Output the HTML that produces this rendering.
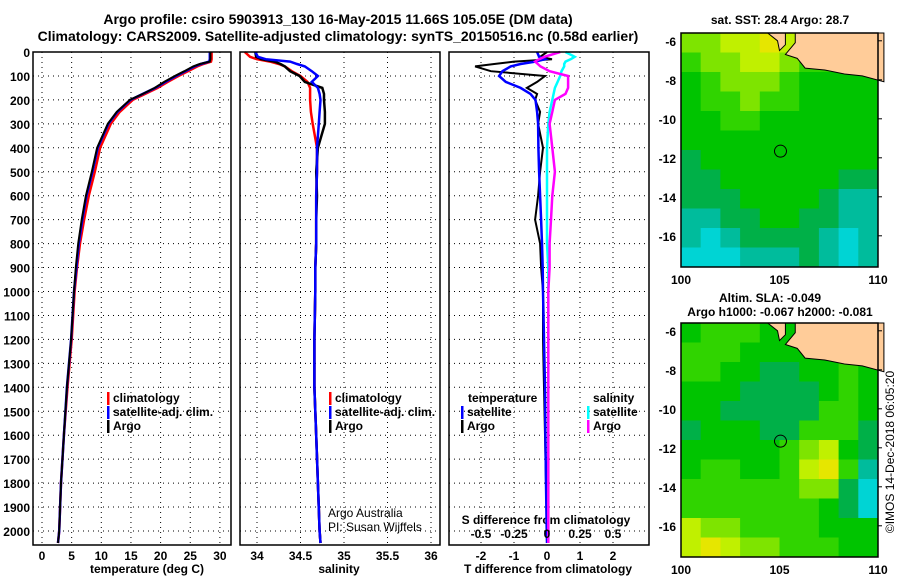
<!DOCTYPE html>
<html><head><meta charset="utf-8"><style>
body{margin:0;background:#fff}
svg{display:block;font-family:"Liberation Sans",sans-serif}
.b{font-weight:bold;font-size:12px}
.t{font-weight:bold;font-size:14px}
</style></head><body>
<svg id="s" width="900" height="580" viewBox="0 0 900 580">
<text class="t" x="338" y="24" text-anchor="middle">Argo profile: csiro 5903913_130 16-May-2015 11.66S 105.05E (DM data)</text>
<text class="t" x="338" y="41" text-anchor="middle">Climatology: CARS2009. Satellite-adjusted climatology: synTS_20150516.nc (0.58d earlier)</text>
<text class="b" x="147" y="573" text-anchor="middle">temperature (deg C)</text>
<text class="b" x="339" y="573" text-anchor="middle">salinity</text>
<text class="b" x="548" y="573" text-anchor="middle">T difference from climatology</text>
<text class="b" x="546" y="524" text-anchor="middle">S difference from climatology</text>
<text x="328" y="517" font-size="12">Argo Australia</text>
<text x="328" y="531" font-size="12">PI: Susan Wijffels</text>
<text class="b" x="780" y="24" text-anchor="middle">sat. SST: 28.4 Argo: 28.7</text>
<text class="b" x="770" y="302" text-anchor="middle">Altim. SLA: -0.049</text>
<text class="b" x="780" y="316" text-anchor="middle">Argo h1000: -0.067 h2000: -0.081</text>
<text x="0" y="0" font-size="12" transform="translate(894,452) rotate(-90)" text-anchor="middle">©IMOS 14-Dec-2018 06:05:20</text>
</svg>
<script>
const depths=[0,20,30,40,50,60,80,100,125,150,175,200,250,300,400,500,600,700,800,900,1000,1200,1400,1600,1800,2000,2050];
const tempArgo=[28.4,28.4,28.4,28.3,26.6,25.5,24,22.4,20.6,19,17,14.8,12.6,11.1,9.3,8.4,7.4,6.7,6.1,5.7,5.4,4.9,4.2,3.7,3.2,2.9,2.7];
const tempClim=[28.6,28.6,28.6,28.5,27.2,26.2,24.6,23,21.2,19.5,17.4,15.3,13.1,11.6,9.8,8.9,7.9,7.1,6.4,5.9,5.5,5.0,4.3,3.7,3.2,2.9,2.7];
const tempSat=[28.3,28.3,28.3,28.2,26.8,25.7,24.2,22.6,20.8,19.1,17,14.9,12.7,11.2,9.4,8.5,7.5,6.8,6.2,5.8,5.4,4.9,4.2,3.7,3.2,2.9,2.7];
const salArgo=[33.98,33.99,34.05,34.2,34.27,34.32,34.38,34.49,34.55,34.75,34.77,34.77,34.78,34.78,34.7,34.68,34.69,34.68,34.68,34.67,34.67,34.66,34.66,34.68,34.7,34.72,34.73];
const salClim=[33.86,33.92,34.0,34.15,34.25,34.32,34.4,34.5,34.58,34.61,34.61,34.61,34.62,34.64,34.69,34.69,34.68,34.68,34.68,34.67,34.67,34.66,34.66,34.68,34.7,34.72,34.73];
const salSat=[33.98,34.01,34.1,34.38,34.46,34.55,34.63,34.7,34.63,34.7,34.72,34.73,34.72,34.71,34.69,34.69,34.68,34.68,34.68,34.67,34.67,34.66,34.66,34.68,34.7,34.72,34.73];
const dTArgo=[0,-0.21,0.15,-1.0,-1.6,-2.18,-1.7,-0.06,-0.3,-0.61,-0.3,-0.36,-0.21,-0.27,-0.12,-0.21,-0.27,-0.36,-0.21,-0.18,-0.12,-0.12,-0.09,-0.06,-0.03,0,0];
const dTSat=[-0.3,-0.24,-0.06,-0.36,-0.8,-1.1,-1.35,-1.45,-1.25,-0.8,-0.5,-0.35,-0.3,-0.27,-0.26,-0.24,-0.21,-0.18,-0.15,-0.13,-0.12,-0.09,-0.06,-0.05,-0.03,-0.01,0];
const dSSat=[0.14,0.21,0.18,0.14,0.13,0.13,0.11,0.1,0.08,0.06,0.05,0.04,0.02,0.01,0,0,0,0,0,0.01,0.01,0.01,0.01,0.01,0.01,0.01,0.01];
const dSArgo=[0.1,-0.02,-0.06,-0.09,-0.07,-0.05,0.02,0.16,0.16,0.16,0.14,0.06,0.04,0.02,0.04,0.06,0.04,0.03,0.02,0.02,0.01,0.01,0.01,0.01,0.01,0.01,0.01];
const tTicks=[0,5,10,15,20,25,30];
const sTicks=[34,34.5,35,35.5,36];
const sTickLabels=["34","34.5","35","35.5","36"];
const dSTicks=[-0.5,-0.25,0,0.25,0.5];
const dSTickLabels=["-0.5","-0.25","0","0.25","0.5"];
const dTTicks=[-2,-1,0,1,2];
const depthTicks=[0,100,200,300,400,500,600,700,800,900,1000,1100,1200,1300,1400,1500,1600,1700,1800,1900,2000];
const latTicks=[-6,-8,-10,-12,-14,-16];
const lonTicks=[100,105,110];
const sstGrid=["5566765555","4556654444","3455543333","3445443333","3344333333","3333333333","2333333333","2233333322","2223333211","1122332211","1012222101","0001112101"];
const slaGrid=["3444333333","4443333333","4433223343","3332222343","3322222443","2333224442","3333345632","3443346741","4444445520","4444444320","6554444333","6765544433"];
const NS='http://www.w3.org/2000/svg';
const svg=document.getElementById('s');
function mk(t,a,p){const e=document.createElementNS(NS,t);for(const k in a)e.setAttribute(k,a[k]);(p||svg).appendChild(e);return e;}
const Y=d=>52+d*0.2395;
const panels=[{x0:33,x1:231},{x0:240,x1:440},{x0:449,x1:649}];
const xT=v=>42+v*5.93, xS=v=>257+(v-34)*87, xDT=v=>547+v*33, xDS=v=>547+v*132;
function grid(p,xs,name){
  const g=mk('g',{});
  
  
  xs.forEach(x=>mk('line',{x1:x,x2:x,y1:52,y2:545,stroke:'#000','stroke-dasharray':'1 4','stroke-width':1},g));
  depthTicks.forEach(d=>mk('line',{x1:p.x0,x2:p.x1,y1:Y(d),y2:Y(d),stroke:'#000','stroke-dasharray':'1 4','stroke-width':1},g));
}
function frame(p,name){const r=mk('rect',{x:p.x0,y:52,width:p.x1-p.x0,height:493,fill:'none',stroke:'#000','stroke-width':1.5});
}
function line(vals,fx,col,name,w){const pts=vals.map((v,i)=>fx(v).toFixed(1)+','+Y(depths[i]).toFixed(1)).join(' ');
const l=mk('polyline',{points:pts,fill:'none',stroke:col,'stroke-width':w||2.5});
}
grid(panels[0],tTicks.map(xT),'temperature');
grid(panels[1],sTicks.map(xS),'salinity');
grid(panels[2],dSTicks.map(xDS),'difference');
line(tempClim,xT,'#f00','temp-climatology-line');line(tempSat,xT,'#00f','temp-satellite-line');line(tempArgo,xT,'#000','temp-argo-line',2);
line(salClim,xS,'#f00','sal-climatology-line');line(salArgo,xS,'#000','sal-argo-line');line(salSat,xS,'#00f','sal-satellite-line');
line(dTArgo,xDT,'#000','tdiff-argo-line',2);line(dTSat,xDT,'#00f','tdiff-satellite-line');line(dSSat,xDS,'#0ff','sdiff-satellite-line');line(dSArgo,xDS,'#f0f','sdiff-argo-line');
panels.forEach((p,i)=>frame(p,['temperature-panel','salinity-panel','difference-panel'][i]));
function txt(x,y,s,anchor,name,cls){const t=mk('text',{x:x,y:y,'text-anchor':anchor||'middle',class:cls||'b'});t.textContent=s;
return t;}
depthTicks.forEach(d=>txt(30,Y(d)+5,String(d),'end','depth-tick-label'));
tTicks.forEach(v=>txt(xT(v),560,String(v),'middle','temperature-tick-label'));
sTicks.forEach((v,i)=>txt(xS(v),560,sTickLabels[i],'middle','salinity-tick-label'));
dTTicks.forEach(v=>txt(xDT(v),560,String(v),'middle','t-diff-tick-label'));
dSTicks.forEach((v,i)=>txt(xDS(v),538,dSTickLabels[i],'middle','s-diff-tick-label'));
function leg(x,y,col,label,name){const r=mk('rect',{x:x,y:y-10,width:2.5,height:13,fill:col});txt(x+6,y,label,'start',name);}
leg(107,402,'#f00','climatology','legend-climatology');leg(107,416,'#00f','satellite-adj. clim.','legend-satellite');leg(107,430,'#000','Argo','legend-argo');
leg(329,402,'#f00','climatology','legend-sal-climatology');leg(329,416,'#00f','satellite-adj. clim.','legend-sal-satellite');leg(329,430,'#000','Argo','legend-sal-argo');
txt(468,402,'temperature','start','legend-temperature-header');leg(461,416,'#00f','satellite','legend-t-satellite');leg(461,430,'#000','Argo','legend-t-argo');
txt(593,402,'salinity','start','legend-salinity-header');leg(587,416,'#0ff','satellite','legend-s-satellite');leg(587,430,'#f0f','Argo','legend-s-argo');
const palette=['#00d4d4','#00bc9c','#00b048','#00c400','#30d400','#7ee400','#c0f000','#e6e600','#e0c800'];
function map(top,gridData,name){
  const x0=681,x1=878,y0=top,y1=top+234;
  const lx=lon=>x0+(lon-100)*19.7, ly=lat=>y0+(-5.6-lat)*19.5;
  const g=mk('g',{});
  gridData.forEach((row,r)=>{for(let c=0;c<row.length;c++){
    const cell=mk('rect',{x:x0+c*19.7,y:y0+r*19.5,width:20.2,height:20,fill:palette[+row[c]]},g);
    
    }});
  const java=[[105.8,-5.6],[105.8,-6.1],[105.3,-6.7],[105.9,-6.9],[106.3,-7.4],[107.3,-7.5],[108.3,-7.7],[109.2,-7.8],[110.3,-8.1],[110.3,-5.6]];
  const sum=[[104.4,-5.6],[104.9,-6.0],[105.0,-6.5],[105.3,-6.2],[105.3,-5.6]];
  [java,sum].forEach((poly,i)=>{const pg=mk('polygon',{points:poly.map(p=>lx(p[0])+','+ly(p[1])).join(' '),fill:'#ffcc99',stroke:'#000','stroke-width':1},g);
    });
  const c=mk('circle',{cx:lx(105.05),cy:ly(-11.66),r:6,fill:'none',stroke:'#000','stroke-width':1},g);
  
  const f=mk('rect',{x:x0,y:y0,width:x1-x0,height:y1-y0,fill:'none',stroke:'#000','stroke-width':1.5});
  
  latTicks.forEach(l=>{txt(676,ly(l)+5,String(l),'end','lat-tick-label');mk('line',{x1:x1,x2:x1+4,y1:ly(l),y2:ly(l),stroke:'#000'});});
  lonTicks.forEach(l=>txt(lx(l),y1+17,String(l),'middle','lon-tick-label'));
}
map(33,sstGrid,'sst-map');
map(323,slaGrid,'sla-map');
</script>
</body></html>
